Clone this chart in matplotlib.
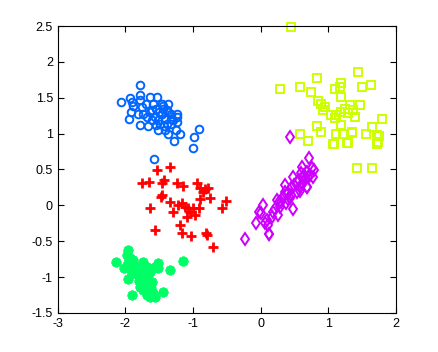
import matplotlib
matplotlib.use('Agg')
import matplotlib.pyplot as plt
import numpy as np

# cluster 1 - blue circles
blue_x = [-1.78, -2.065, -1.93, -1.90, -1.78, -1.64, -1.53, -1.91, -1.94, -1.79, -1.66,
          -1.76, -1.69, -1.59, -1.46, -1.365, -1.735, -1.64, -1.56, -1.46, -1.39, -1.32,
          -1.24, -1.23, -1.49, -1.39, -1.32, -1.51, -1.41, -1.365, -1.19, -1.28, -0.98,
          -0.907, -0.996, -1.577, -1.82, -1.54, -1.44, -1.61, -1.415, -1.29, -1.24, -1.51,
          -1.685, -1.45, -1.37, -1.60, -1.50, -1.33, -1.55, -1.43, -1.25, -1.78, -1.88]
blue_y = [1.68, 1.435, 1.49, 1.435, 1.54, 1.51, 1.51, 1.305, 1.20, 1.12, 1.105,
          1.375, 1.42, 1.42, 1.42, 1.42, 1.28, 1.305, 1.235, 1.28, 1.33, 1.28,
          1.28, 1.235, 1.14, 1.14, 1.14, 1.05, 1.05, 1.00, 1.00, 0.895, 0.955,
          1.058, 0.793, 0.64, 1.27, 1.35, 1.35, 1.19, 1.21, 1.19, 1.165, 1.19,
          1.235, 1.38, 1.30, 1.33, 1.30, 1.20, 1.12, 1.10, 1.05, 1.47, 1.38]

# cluster 2 - yellow-green squares
yel_x = [0.456, 0.293, 0.579, 0.737, 0.840, 1.096, 1.17, 1.195, 1.185, 1.44, 1.505,
         1.638, 0.85, 0.899, 0.949, 0.924, 1.047, 1.12, 1.096, 1.195, 1.244, 1.318,
         1.293, 1.367, 1.392, 1.466, 1.195, 0.835, 1.80, 1.653, 0.579, 0.702, 0.899,
         1.082, 1.111, 1.22, 1.343, 1.283, 1.555, 1.72, 1.72, 1.737, 1.417, 1.653,
         1.074, 1.286, 1.345, 1.75]
yel_y = [2.49, 1.62, 1.653, 1.58, 1.78, 1.62, 1.653, 1.70, 1.51, 1.86, 1.653,
         1.676, 1.45, 1.42, 1.374, 1.327, 1.258, 1.258, 1.211, 1.304, 1.35, 1.397,
         1.281, 1.327, 1.234, 1.397, 1.118, 1.109, 1.202, 1.095, 0.992, 0.895, 1.016,
         0.862, 0.992, 0.992, 1.016, 0.876, 0.992, 0.979, 0.862, 0.885, 0.523, 0.514,
         0.853, 0.863, 1.01, 0.965]

# cluster 3 - magenta diamonds
mag_x = [-0.233, -0.076, -0.022, 0.037, 0.062, 0.121, 0.087, 0.161, 0.21, 0.235,
         0.259, 0.284, 0.333, 0.358, 0.382, 0.407, 0.456, 0.481, 0.481, 0.53, 0.53,
         0.579, 0.594, 0.604, 0.653, 0.678, 0.712, 0.727, 0.752, 0.791, 0.776, 0.678,
         0.628, 0.432, 0.308, 0.185, 0.111, 0.431, 0.128, 0.0, 0.69,
         0.56, 0.61, 0.50, 0.45, 0.36, 0.27, 0.64, 0.70, 0.58, 0.40]
mag_y = [-0.476, -0.253, -0.09, 0.003, -0.253, -0.393, -0.207, -0.16, -0.044, 0.073,
         -0.137, -0.02, 0.119, 0.282, 0.026, 0.166, 0.235, 0.398, -0.053, 0.189, 0.328,
         0.259, 0.445, 0.538, 0.352, 0.259, 0.654, 0.421, 0.514, 0.491, 0.398, 0.468,
         0.375, 0.096, 0.049, -0.09, -0.276, 0.955, -0.393, -0.1, 0.25,
         0.36, 0.30, 0.28, 0.14, 0.19, 0.05, 0.43, 0.39, 0.20, 0.09]

# cluster 4 - red plus signs
red_x = [-1.341, -1.528, -1.76, -1.647, -1.464, -1.425, -1.233, -1.154, -0.937, -0.898,
         -0.824, -0.775, -0.858, -1.479, -1.464, -1.637, -1.341, -1.292, -1.218, -1.168,
         -1.119, -1.07, -0.996, -1.095, -0.971, -0.908, -0.898, -0.75, -0.513, -0.578,
         -1.193, -1.563, -1.168, -1.036, -0.809, -0.789, -0.71, -1.046]
red_y = [0.538, 0.492, 0.306, 0.32, 0.306, 0.352, 0.306, 0.269, 0.315, 0.236,
         0.222, 0.236, 0.19, 0.12, 0.143, -0.043, 0.05, -0.089, 0.004, 0.027,
         -0.02, -0.043, -0.043, -0.159, -0.136, -0.043, 0.083, 0.097, 0.064, -0.043,
         -0.276, -0.345, -0.392, -0.429, -0.382, -0.415, -0.587, -0.09]

# cluster 5 - green asterisks
grn_x = [-1.956, -1.981, -1.932, -2.144, -2.015, -1.956, -1.907, -1.858, -1.956, -1.907,
         -1.809, -1.759, -1.71, -1.735, -1.685, -1.636, -1.587, -1.562, -1.439, -1.661,
         -1.636, -1.562, -1.513, -1.513, -1.34, -1.144, -1.735, -1.833, -1.685, -1.611,
         -1.784, -1.882, -1.759, -1.90, -1.70, -1.62, -1.80]
grn_y = [-0.624, -0.694, -0.741, -0.796, -0.88, -0.81, -0.857, -0.927, -1.02, -1.252,
         -0.973, -1.066, -1.113, -1.182, -1.252, -1.275, -1.229, -1.275, -1.206, -1.02,
         -0.927, -0.857, -0.88, -0.81, -0.903, -0.778, -0.787, -0.857, -0.857, -1.066,
         -1.136, -0.764, -0.927, -0.95, -1.20, -1.15, -1.05]

plt.rcParams['font.family'] = ['Liberation Sans', 'DejaVu Sans']
fig = plt.figure(figsize=(4.38, 3.52), dpi=100)
ax = fig.add_axes([0.1317, 0.111, 0.7723, 0.815])

ax.plot(blue_x, blue_y, 'o', mfc='none', mec=(0, 0.4, 1), ms=5.5, mew=1.4)
ax.plot(yel_x, yel_y, 's', mfc='none', mec=(0.8, 1, 0), ms=6, mew=1.4)
ax.plot(mag_x, mag_y, 'd', mfc='none', mec=(0.8, 0, 1), ms=6, mew=1.4)
ax.plot(red_x, red_y, '+', color=(1, 0, 0), ms=7, mew=2)
# matlab style '*' : 8 spokes
ax.plot(grn_x, grn_y, marker=(8, 2, 0), ls='none', color=(0, 1, 0.4), ms=7, mew=2)

ax.set_xlim(-3, 2)
ax.set_ylim(-1.5, 2.5)
ax.set_xticks(np.arange(-3, 2.1, 1))
ax.set_yticks(np.arange(-1.5, 2.6, 0.5))
ax.set_xticklabels(['-3', '-2', '-1', '0', '1', '2'])
ax.set_yticklabels(['-1.5', '-1', '-0.5', '0', '0.5', '1', '1.5', '2', '2.5'])
ax.tick_params(direction='in', top=True, right=True, length=4, width=0.8, labelsize=9)
for s in ax.spines.values():
    s.set_linewidth(0.8)
for m in ax.lines:
    m.set_clip_on(False)

fig.savefig('out.png', dpi=100)
